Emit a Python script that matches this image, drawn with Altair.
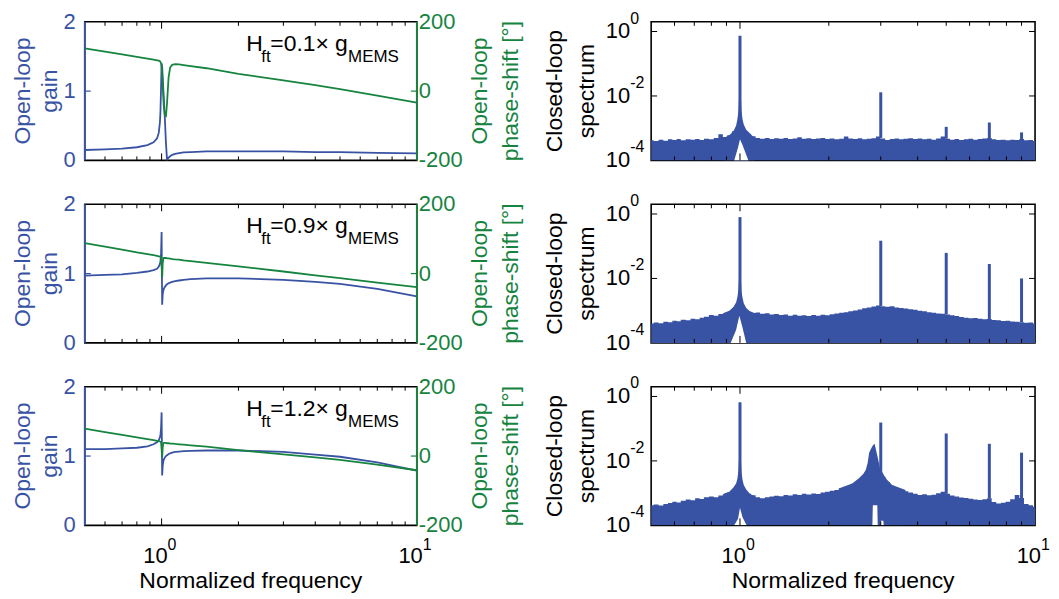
import altair as alt
import pandas as pd

BLUE = "#3953A4"
GREEN = "#16843F"
FONT = "Liberation Sans"
LW, RW, H = 333, 385, 139
XDOM = [0.5, 10]

# ---------------- open-loop curves (left column) ----------------
F_OL = [0.50, 0.60, 0.70, 0.80, 0.88, 0.93, 0.96, 0.975, 0.985, 0.99, 0.995, 1.0,
        1.005, 1.01, 1.015, 1.02, 1.03, 1.04, 1.05, 1.065, 1.08, 1.1, 1.13, 1.17,
        1.22, 1.3, 1.5, 2.0, 3.0, 4.0, 5.0, 7.0, 10.0]

GAIN_1 = [0.15, 0.16, 0.17, 0.19, 0.22, 0.26, 0.32, 0.40, 0.55, 0.72, 1.05, 1.40,
          1.35, 1.20, 1.05, 0.90, 0.60, 0.25, 0.01, 0.04, 0.06, 0.08, 0.095, 0.105,
          0.115, 0.12, 0.13, 0.13, 0.13, 0.12, 0.12, 0.11, 0.10]
GAIN_2 = [0.97, 0.98, 0.99, 1.01, 1.03, 1.05, 1.07, 1.10, 1.14, 1.18, 1.28, 1.60,
          0.55, 0.70, 0.75, 0.78, 0.81, 0.83, 0.845, 0.86, 0.87, 0.88, 0.89, 0.90,
          0.91, 0.92, 0.93, 0.93, 0.91, 0.88, 0.85, 0.78, 0.67]
GAIN_3 = [1.10, 1.10, 1.11, 1.12, 1.14, 1.17, 1.20, 1.23, 1.27, 1.31, 1.40, 1.63,
          0.72, 0.86, 0.92, 0.95, 0.98, 1.00, 1.01, 1.03, 1.04, 1.05, 1.06, 1.065,
          1.07, 1.075, 1.08, 1.08, 1.06, 1.02, 0.99, 0.91, 0.79]

PHASE_1 = [123, 114, 106, 99, 94, 91, 89, 88, 86, 84, 80, 72,
           50, 20, -15, -45, -70, -72, -35, 40, 68, 76, 78, 77,
           75, 72, 66, 50, 31, 17, 6, -13, -33]
PHASE_2 = [88, 78, 69, 61, 56, 53, 51, 50, 49, 48, 45, 20,
           -11, 30, 42, 45, 45, 45, 44, 44, 43, 42, 41, 40,
           38, 36, 31, 21, 6, -5, -13, -26, -39]
PHASE_3 = [79, 69, 61, 54, 49, 46, 44, 43, 42, 41, 39, 20,
           -4, 25, 35, 38, 38, 38, 37, 37, 36, 36, 35, 34,
           33, 31, 27, 17, 5, -4, -11, -25, -41]

GAINS = [GAIN_1, GAIN_2, GAIN_3]
PHASES = [PHASE_1, PHASE_2, PHASE_3]
H_VALUES = ["0.1", "0.9", "1.2"]

# ---------------- closed-loop spectra (right column) ----------------
F_GRID = [0.50, 0.52, 0.54, 0.56, 0.58, 0.60, 0.62, 0.64, 0.67, 0.69,
          0.72, 0.74, 0.77, 0.80, 0.83, 0.86, 0.89, 0.92, 0.96, 1.00,
          1.04, 1.07, 1.11, 1.15, 1.19, 1.24, 1.28, 1.33, 1.38, 1.43,
          1.48, 1.54, 1.59, 1.65, 1.71, 1.78, 1.84, 1.91, 1.98, 2.05,
          2.13, 2.21, 2.29, 2.37, 2.46, 2.55, 2.64, 2.74, 2.84, 2.94,
          3.05, 3.16, 3.28, 3.40, 3.52, 3.65, 3.79, 3.93, 4.07, 4.22,
          4.38, 4.54, 4.70, 4.88, 5.06, 5.24, 5.43, 5.63, 5.84, 6.06,
          6.28, 6.51, 6.75, 7.00, 7.26, 7.52, 7.80, 8.09, 8.38, 8.69,
          9.01, 9.34, 9.68, 10.0]

# noise floor, in units of 1e-4
FLOOR_1 = [4.2, 4.0, 4.4, 4.1, 4.5, 4.3, 4.6, 4.2, 4.5, 4.4,
           4.6, 4.3, 4.7, 4.5, 5.0, 6.5, 5.3, 6.0, 8.0, 10.0,
           8.0, 6.5, 5.6, 5.0, 4.7, 5.0, 4.6, 4.9, 4.7, 5.0,
           4.6, 4.8, 5.2, 4.7, 4.9, 4.6, 4.8, 5.0, 4.6, 4.8,
           4.5, 4.7, 5.5, 4.8, 4.6, 4.9, 4.5, 4.7, 4.9, 5.5,
           4.8, 4.3, 4.6, 4.8, 4.5, 4.7, 4.9, 4.6, 4.8, 4.5,
           4.7, 4.4, 4.8, 5.5, 4.7, 4.4, 4.6, 4.3, 4.5, 4.7,
           4.4, 4.6, 4.8, 5.0, 4.5, 4.3, 4.4, 4.2, 4.4, 4.3,
           4.6, 4.2, 4.3, 4.0]
FLOOR_2 = [4.0, 4.3, 4.1, 4.5, 4.4, 4.9, 4.7, 5.2, 5.0, 5.6,
           5.4, 6.0, 6.5, 7.3, 7.0, 7.9, 8.3, 9.0, 11.0, 13.0,
           11.0, 9.2, 8.4, 8.8, 8.0, 8.3, 7.6, 7.9, 7.3, 7.6,
           7.0, 7.4, 6.9, 7.2, 6.8, 7.3, 7.0, 7.5, 7.2, 7.8,
           8.1, 8.6, 9.0, 9.6, 10.2, 10.8, 11.8, 12.5, 13.5, 14.5,
           13.8, 13.2, 13.6, 12.6, 12.0, 11.6, 11.0, 10.6, 10.0, 9.6,
           9.0, 8.6, 8.2, 8.0, 7.6, 7.2, 6.8, 6.4, 6.0, 5.8,
           5.9, 5.6, 5.4, 5.5, 5.1, 5.0, 4.8, 4.9, 4.6, 4.5,
           4.4, 4.2, 4.3, 4.0]
FLOOR_3 = [4.2, 4.4, 4.1, 4.6, 4.9, 5.4, 5.1, 5.8, 6.3, 6.0,
           6.9, 6.6, 7.4, 7.8, 7.5, 8.4, 9.2, 10.5, 13.0, 16.0,
           12.0, 9.5, 8.6, 7.4, 6.9, 7.5, 7.9, 8.3, 8.0, 8.8,
           8.4, 9.2, 8.8, 9.5, 9.1, 9.8, 9.4, 10.4, 11.0, 11.8,
           12.6, 13.8, 15.5, 17.5, 19.5, 22.0, 28.0, 38.0, 45.0, 42.0,
           32.0, 22.0, 17.0, 14.0, 12.5, 11.5, 10.5, 9.5, 8.8, 9.2,
           8.6, 8.9, 10.0, 11.0, 9.5, 8.4, 7.8, 7.3, 7.0, 6.7,
           6.3, 6.1, 6.5, 6.9, 5.3, 4.8, 5.0, 5.4, 6.5, 8.8,
           7.0, 4.6, 4.2, 3.8]
FLOORS = [FLOOR_1, FLOOR_2, FLOOR_3]

# broadened base of the resonance at f = 1
PYR_F = [0.88, 0.92, 0.95, 0.97, 0.98, 0.988, 0.995, 1.0, 1.005, 1.012, 1.02, 1.03, 1.05, 1.08, 1.12]
PYR_TOP = [
    [5e-4, 6e-4, 8e-4, 1.2e-3, 1.9e-3, 3.5e-3, 1.5e-2, 6e-2, 1.5e-2, 3.5e-3, 1.9e-3, 1.3e-3, 9e-4, 7e-4, 5e-4],
    [8.5e-4, 1e-3, 1.3e-3, 1.8e-3, 2.6e-3, 4.5e-3, 1.8e-2, 6e-2, 1.8e-2, 4e-3, 2.5e-3, 1.7e-3, 1.2e-3, 9.5e-4, 8.5e-4],
    [9.5e-4, 1.1e-3, 1.5e-3, 2e-3, 2.8e-3, 5e-3, 2e-2, 6e-2, 2e-2, 4.5e-3, 2.6e-3, 1.8e-3, 1.3e-3, 9.5e-4, 8e-4],
]
# second resonance hump (bottom panel only)
HUMP_F = [2.16, 2.40, 2.53, 2.62, 2.67, 2.71, 2.74, 2.78, 2.82, 2.86, 2.89, 2.94, 2.98, 3.03, 3.08, 3.15, 3.28, 3.64]
HUMP_TOP = [1.4e-3, 2e-3, 2.9e-3, 4e-3, 5.3e-3, 9e-3, 1.8e-2, 2.4e-2, 3.0e-2, 3.4e-2, 2.2e-2, 1.1e-2,
            6e-3, 4.7e-3, 3.5e-3, 2.6e-3, 1.8e-3, 1.25e-3]

# gaps (no energy) below the resonances
NOTCH_F = [
    [[0.956, 0.985, 1.0, 1.02, 1.068]],
    [[0.93, 0.97, 0.995, 1.02, 1.05]],
    [[0.956, 0.985, 1.0, 1.02, 1.053], [2.81, 2.82, 2.92, 2.93], [2.99, 3.0, 3.06, 3.07]],
]
NOTCH_TOP = [
    [[1e-4, 2.5e-4, 4.5e-4, 3e-4, 1e-4]],
    [[1e-4, 2.5e-4, 7e-4, 3e-4, 1e-4]],
    [[1e-4, 1.6e-4, 3.5e-4, 1.8e-4, 1e-4], [1e-4, 4.2e-4, 4.2e-4, 1e-4], [1e-4, 1.4e-4, 1.4e-4, 1e-4]],
]

# harmonic lines
SPIKE_F = [1.0, 3.0, 5.0, 7.0, 9.0]
SPIKE_TOP = [[0.74, 0.013, 1.1e-3, 1.5e-3, 7.4e-4],
             [0.80, 0.148, 0.062, 0.028, 0.010],
             [0.66, 0.155, 0.071, 0.034, 0.018]]
SPIKE_BASE = [[4.5e-4, 5e-4, 4.7e-4, 4.8e-4, 4.4e-4],
              [7e-4, 1.4e-3, 7.6e-4, 5.5e-4, 4.4e-4],
              [3.5e-4, 4.7e-3, 9.5e-4, 6.9e-4, 7e-4]]

# ticks and tick labels
XTICK_MINOR = [0.6, 0.7, 0.8, 0.9, 2, 3, 4, 5, 6, 7, 8, 9]
XTICK_MAJOR = [1]
X_LABEL_VALUES = [1, 10]
X_LABEL_EXP = ["0", "1"]
GAIN_LABEL_VALUES = [0, 1, 2]
GAIN_TICKS = [1]
PHASE_LABEL_VALUES = [-200, 0, 200]
PHASE_TICKS = [0]
SPEC_LABEL_VALUES = [1, 1e-2, 1e-4]
SPEC_LABEL_EXP = ["0", "-2", "-4"]
SPEC_YTICKS = [0.01, 1]


def xs():
    return alt.X("f:Q", scale=alt.Scale(type="log", domain=XDOM, nice=False), axis=None)


def one():
    return alt.Chart(pd.DataFrame({"k": [0]}))


def text_at(t, px, py, size, color="black", angle=0, align="center", baseline="middle"):
    return alt.Chart(pd.DataFrame({"t": [t]})).mark_text(
        align=align, baseline=baseline, fontSize=size, color=color, angle=angle, font=FONT
    ).encode(x=alt.value(px), y=alt.value(py), text="t:N")


def xtick_layers(h):
    out = []
    for vals, L in ((XTICK_MINOR, 4), (XTICK_MAJOR, 7)):
        src = alt.Chart(pd.DataFrame({"f": vals}))
        out.append(src.mark_rule(color="black", strokeWidth=1).encode(
            x=xs(), y=alt.value(0), y2=alt.value(L)))
        out.append(src.mark_rule(color="black", strokeWidth=1).encode(
            x=xs(), y=alt.value(h), y2=alt.value(h - L)))
    return out


def xlabel_layers(w):
    src = alt.Chart(pd.DataFrame({"f": X_LABEL_VALUES, "e": X_LABEL_EXP, "b": ["10", "10"]}))
    base = src.mark_text(align="right", baseline="middle", fontSize=22, color="black",
                         font=FONT, dx=6).encode(x=xs(), y=alt.value(H + 31), text="b:N")
    exp = src.mark_text(align="left", baseline="middle", fontSize=16, color="black",
                        font=FONT, dx=6).encode(x=xs(), y=alt.value(H + 20), text="e:N")
    title = text_at("Normalized frequency", w / 2, H + 56, 23)
    return [base, exp, title]


def annotation(i):
    return [text_at("H", 162, 29, 23, align="left", baseline="alphabetic"),
            text_at("ft", 177, 40, 17, align="left", baseline="alphabetic"),
            text_at("=" + H_VALUES[i] + "\u00d7", 186, 29, 23, align="left", baseline="alphabetic"),
            text_at("g", 251, 29, 23, align="left", baseline="alphabetic"),
            text_at("MEMS", 264, 40, 17, align="left", baseline="alphabetic")]


def left_panel(i, bottom):
    df = pd.DataFrame({"f": F_OL, "gain": GAINS[i], "phase": PHASES[i]})
    base = alt.Chart(df)
    gain_line = base.mark_line(color=BLUE, strokeWidth=1.8, clip=True).encode(
        x=xs(),
        y=alt.Y("gain:Q", scale=alt.Scale(domain=[0, 2], nice=False, zero=False), axis=None))
    gtick = alt.Chart(pd.DataFrame({"v": GAIN_TICKS})).mark_rule(
        color=BLUE, strokeWidth=1.2).encode(
        y=alt.Y("v:Q", axis=None), x=alt.value(0), x2=alt.value(6))
    glab = alt.Chart(pd.DataFrame({"v": GAIN_LABEL_VALUES, "t": [str(v) for v in GAIN_LABEL_VALUES]})).mark_text(
        align="right", baseline="middle", fontSize=22, color=BLUE, font=FONT).encode(
        y=alt.Y("v:Q", axis=None), x=alt.value(-9), text="t:N")
    gborder = one().mark_rule(color=BLUE, strokeWidth=1.8).encode(
        x=alt.value(0), y=alt.value(0), y2=alt.value(H))
    gtitle = [text_at("Open-loop", -62, H / 2, 23, BLUE, angle=270),
              text_at("gain", -35, H / 2, 23, BLUE, angle=270)]
    extra = xlabel_layers(LW) if bottom else []
    gain_layer = alt.layer(gain_line, gtick, glab, gborder, *gtitle, *xtick_layers(H),
                           *annotation(i), *extra)

    phase_line = base.mark_line(color=GREEN, strokeWidth=1.8, clip=True).encode(
        x=xs(),
        y=alt.Y("phase:Q", scale=alt.Scale(domain=[-200, 200], nice=False, zero=False), axis=None))
    ptick = alt.Chart(pd.DataFrame({"v": PHASE_TICKS})).mark_rule(
        color=GREEN, strokeWidth=1.2).encode(
        y=alt.Y("v:Q", axis=None), x=alt.value(LW - 6), x2=alt.value(LW))
    plab = alt.Chart(pd.DataFrame({"v": PHASE_LABEL_VALUES, "t": [str(v) for v in PHASE_LABEL_VALUES]})).mark_text(
        align="left", baseline="middle", fontSize=22, color=GREEN, font=FONT).encode(
        y=alt.Y("v:Q", axis=None), x=alt.value(LW + 2), text="t:N")
    pborder = one().mark_rule(color=GREEN, strokeWidth=1.8).encode(
        x=alt.value(LW), y=alt.value(0), y2=alt.value(H))
    ptitle = [text_at("Open-loop", LW + 63, H / 2, 23, GREEN, angle=270),
              text_at("phase-shift [\u00b0]", LW + 94, H / 2, 23, GREEN, angle=270)]
    phase_layer = alt.layer(phase_line, ptick, plab, pborder, *ptitle)
    return alt.layer(gain_layer, phase_layer).resolve_scale(y="independent").properties(
        width=LW, height=H)


def right_panel(i, bottom):
    ysc = alt.Scale(type="log", domain=[1e-4, 2], nice=False)
    fl = pd.DataFrame({"f": F_GRID, "v": [v * 1e-4 for v in FLOORS[i]]})
    floor = alt.Chart(fl).mark_area(color=BLUE, interpolate="step", clip=True).encode(
        x=xs(), y=alt.Y("v:Q", scale=ysc, axis=None), y2=alt.datum(1e-4))

    pk_f, pk_t, pk_g = list(PYR_F), list(PYR_TOP[i]), ["a"] * len(PYR_F)
    if i == 2:
        pk_f += HUMP_F
        pk_t += HUMP_TOP
        pk_g += ["b"] * len(HUMP_F)
    pk = pd.DataFrame({"f": pk_f, "top": pk_t, "g": pk_g})
    peak = alt.Chart(pk).mark_area(color=BLUE, clip=True).encode(
        x=xs(), y=alt.Y("top:Q", axis=None), y2=alt.datum(1e-4), detail="g:N")

    nf, nt, ng = [], [], []
    for k, (ff, tt) in enumerate(zip(NOTCH_F[i], NOTCH_TOP[i])):
        nf += ff
        nt += tt
        ng += [str(k)] * len(ff)
    notch = alt.Chart(pd.DataFrame({"f": nf, "top": nt, "g": ng})).mark_area(
        color="white", opacity=1, clip=True).encode(
        x=xs(), y=alt.Y("top:Q", axis=None), y2=alt.datum(1e-4), detail="g:N")

    sp = pd.DataFrame({"f": SPIKE_F, "top": SPIKE_TOP[i], "base": SPIKE_BASE[i]})
    spikes = alt.Chart(sp).mark_rule(color=BLUE, strokeWidth=3).encode(
        x=xs(), y=alt.Y("top:Q", axis=None), y2="base:Q")

    yt = alt.Chart(pd.DataFrame({"v": SPEC_YTICKS}))
    ytl = yt.mark_rule(color="black", strokeWidth=1).encode(
        y=alt.Y("v:Q", axis=None), x=alt.value(0), x2=alt.value(6))
    ytr = yt.mark_rule(color="black", strokeWidth=1).encode(
        y=alt.Y("v:Q", axis=None), x=alt.value(RW - 6), x2=alt.value(RW))

    ylab_src = alt.Chart(pd.DataFrame({"v": SPEC_LABEL_VALUES, "e": SPEC_LABEL_EXP,
                                       "b": ["10"] * len(SPEC_LABEL_VALUES)}))
    ylab = ylab_src.mark_text(align="right", baseline="middle", fontSize=22, color="black",
                              font=FONT).encode(y=alt.Y("v:Q", axis=None), x=alt.value(-21), text="b:N")
    yexp = ylab_src.mark_text(align="left", baseline="middle", fontSize=16, color="black",
                              font=FONT, dy=-13).encode(y=alt.Y("v:Q", axis=None), x=alt.value(-21), text="e:N")
    ytitle = [text_at("Closed-loop", -96, H / 2, 23, angle=270),
              text_at("spectrum", -64, H / 2, 23, angle=270)]
    extra = xlabel_layers(RW) if bottom else []
    return alt.layer(floor, peak, notch, spikes, ytl, ytr, ylab, yexp, *ytitle,
                     *xtick_layers(H), *extra).properties(width=RW, height=H)


panels = []
for i in range(3):
    panels.append(left_panel(i, i == 2))
    panels.append(right_panel(i, i == 2))

chart = alt.concat(*panels, columns=2, spacing={"row": 44, "column": 235},
                   bounds="flush", align="each").properties(
    padding={"left": 3, "top": 0, "right": 0, "bottom": 0}
).configure(font=FONT).configure_view(stroke="black", strokeWidth=1.6).configure_text(font=FONT)

chart.save("out.html", embed_options={"renderer": "svg", "actions": False})
